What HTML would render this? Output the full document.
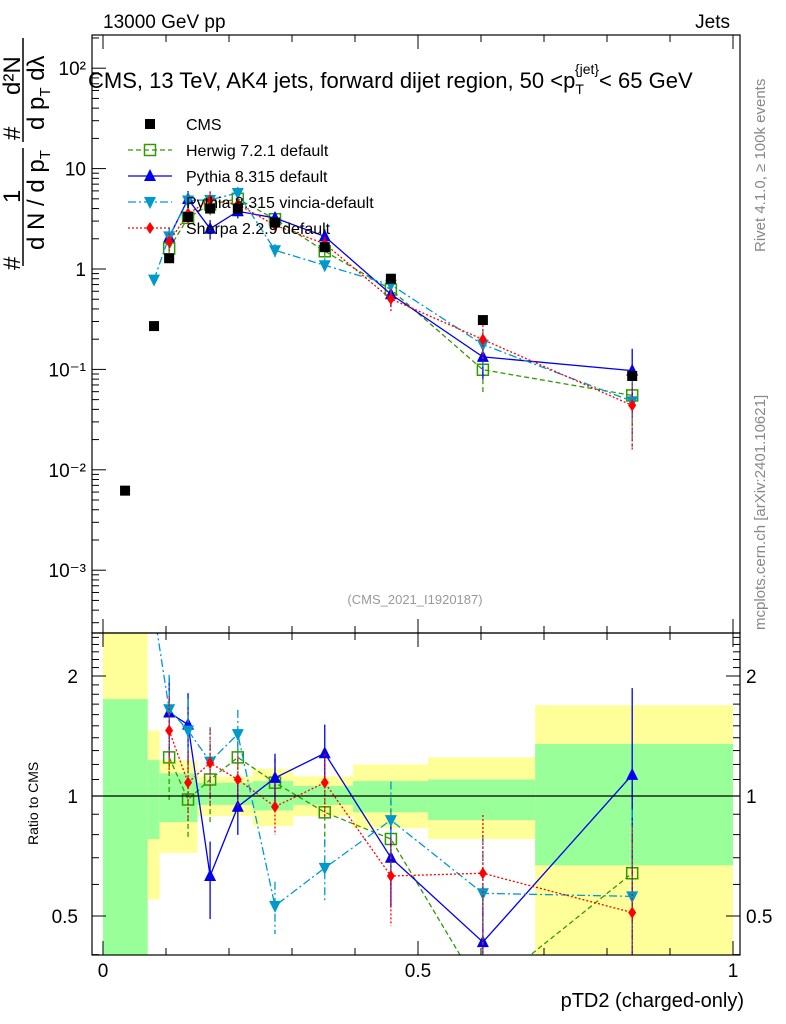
<!DOCTYPE html>
<html><head><meta charset="utf-8"><style>
html,body{margin:0;padding:0;background:#fff;overflow:hidden;width:786px;height:1024px;}
svg{display:block;}
svg text{font-family:"Liberation Sans",sans-serif;}
</style></head><body>
<svg id="c" width="786" height="1024" xmlns="http://www.w3.org/2000/svg">
<g id="bands"></g>
<g id="series"></g>
<rect x="92" y="35" width="648" height="598" fill="none" stroke="#000" stroke-width="1.2"/>
<rect x="92" y="633" width="648" height="322" fill="none" stroke="#000" stroke-width="1.2"/>
<line x1="92" y1="796" x2="740" y2="796" stroke="#000" stroke-width="1.2"/>
<g id="axes"></g>
<text x="103" y="28" font-size="19">13000 GeV pp</text>
<text x="730" y="28" font-size="19" text-anchor="end">Jets</text>
<text x="88" y="88" font-size="22">CMS, 13 TeV, AK4 jets, forward dijet region, 50 &lt;p<tspan font-size="14" dy="6">T</tspan><tspan font-size="14" dy="-20" dx="-9">{jet}</tspan><tspan dy="14">&lt; 65 GeV</tspan></text>
<text x="415" y="604" font-size="13" fill="#999" text-anchor="middle">(CMS_2021_I1920187)</text>
<text transform="translate(765,252) rotate(-90)" font-size="15" fill="#888">Rivet 4.1.0, ≥ 100k events</text>
<text transform="translate(765,630) rotate(-90)" font-size="15" fill="#888">mcplots.cern.ch [arXiv:2401.10621]</text>
<g font-size="24">
<text transform="translate(20,270) rotate(-90)">#</text>
<text transform="translate(20,203) rotate(-90)">1</text>
<line x1="23" y1="148" x2="23" y2="266" stroke="#000" stroke-width="1.5"/>
<text transform="translate(44,250) rotate(-90)">d N / d p<tspan font-size="15" dy="6">T</tspan></text>
<text transform="translate(20,140) rotate(-90)">#</text>
<text transform="translate(20,95) rotate(-90)">d²N</text>
<line x1="23" y1="38" x2="23" y2="142" stroke="#000" stroke-width="1.5"/>
<text transform="translate(44,130) rotate(-90)">d p<tspan font-size="15" dy="6">T</tspan><tspan dy="-6"> dλ</tspan></text>
</g>
<text transform="translate(38,845) rotate(-90)" font-size="14">Ratio to CMS</text>
<text x="744" y="1007" font-size="20" text-anchor="end">pTD2 (charged-only)</text>
<g id="legend"></g>
</svg>
<script>
const xs=[0.035,0.081,0.105,0.135,0.170,0.214,0.273,0.352,0.457,0.603,0.840];
const cmsVals=[0.0062,0.27,1.28,3.3,4.0,4.0,2.9,1.65,0.8,0.31,0.086];
const herwigRatio=[null,null,1.25,0.98,1.10,1.25,1.08,0.91,0.78,0.32,0.64];
const pythiaRatio=[null,null,1.62,1.51,0.63,0.94,1.11,1.28,0.70,0.43,1.13];
const vinciaRatio=[null,2.9,1.65,1.46,1.22,1.43,0.53,0.66,0.87,0.57,0.56];
const sherpaRatio=[null,null,1.46,1.08,1.21,1.10,0.94,1.08,0.63,0.64,0.51];
const relErr=[0.1,0.12,0.22,0.2,0.22,0.15,0.15,0.18,0.25,0.4,0.65];
const bandEdges=[0,0.071,0.09,0.15,0.238,0.302,0.397,0.516,0.686,1.0];
const bandYelLo=[0.3,0.55,0.72,0.89,0.84,0.89,0.83,0.78,0.3];
const bandYelHi=[2.6,1.46,1.23,1.12,1.17,1.12,1.2,1.25,1.69];
const bandGrnLo=[0.3,0.78,0.86,0.95,0.92,0.95,0.91,0.87,0.67];
const bandGrnHi=[1.75,1.23,1.14,1.08,1.09,1.06,1.09,1.1,1.35];
const yTicks=[-3,-2,-1,0,1,2];
const yTickLabels=["10⁻³","10⁻²","10⁻¹","1","10","10²"];
const xTicks=[0,0.5,1];
const xTickLabels=["0","0.5","1"];
const rTicks=[0.5,1,2];
const rTickLabels=["0.5","1","2"];

const NS="http://www.w3.org/2000/svg";
const X=v=>103+630*v;
const Y=v=>269-100.4*Math.log10(v);
const R=v=>796-398.6*Math.log10(v);
function mk(p,tag,at){const e=document.createElementNS(NS,tag);for(const k in at)e.setAttribute(k,at[k]);p.appendChild(e);return e;}
const bands=document.getElementById('bands'),ser=document.getElementById('series'),axes=document.getElementById('axes'),leg=document.getElementById('legend');
const clipR=v=>Math.max(633,Math.min(955,R(v)));
for(let i=0;i<bandYelLo.length;i++){
  const x0=X(bandEdges[i]),w=X(bandEdges[i+1])-x0;
  const a=mk(bands,'rect',{x:x0,y:clipR(bandYelHi[i]),width:w,height:clipR(bandYelLo[i])-clipR(bandYelHi[i]),fill:'#ffff99'});
  
  
  const b=mk(bands,'rect',{x:x0,y:clipR(bandGrnHi[i]),width:w,height:clipR(bandGrnLo[i])-clipR(bandGrnHi[i]),fill:'#99ff99'});
  
  
}
const defs=mk(document.getElementById('c'),'defs',{});
const c1=mk(defs,'clipPath',{id:'cm'});mk(c1,'rect',{x:92,y:35,width:648,height:598});
const c2=mk(defs,'clipPath',{id:'cr'});mk(c2,'rect',{x:92,y:633,width:648,height:322});
const gm=mk(ser,'g',{'clip-path':'url(#cm)'}),gr=mk(ser,'g',{'clip-path':'url(#cr)'});
function marker(g,type,x,y,col){
  let e;
  if(type==='sq')e=mk(g,'rect',{x:x-5,y:y-5,width:10,height:10,fill:'#000'});
  else if(type==='osq')e=mk(g,'rect',{x:x-5.5,y:y-5.5,width:11,height:11,fill:'none',stroke:col,'stroke-width':1.5});
  else if(type==='up')e=mk(g,'path',{d:`M${x},${y-7}L${x+6},${y+5}L${x-6},${y+5}Z`,fill:col});
  else if(type==='dn')e=mk(g,'path',{d:`M${x},${y+7}L${x+6},${y-5}L${x-6},${y-5}Z`,fill:col});
  else e=mk(g,'path',{d:`M${x},${y-6}L${x+4},${y}L${x},${y+6}L${x-4},${y}Z`,fill:col});
  return e;
}
const series=[
 {name:'herwig',label:'Herwig 7.2.1 default',r:herwigRatio,col:'#339900',dash:'5,3',m:'osq'},
 {name:'pythia',label:'Pythia 8.315 default',r:pythiaRatio,col:'#0000ee',dash:'',m:'up'},
 {name:'vincia',label:'Pythia 8.315 vincia-default',r:vinciaRatio,col:'#0099cc',dash:'8,3,2,3',m:'dn'},
 {name:'sherpa',label:'Sherpa 2.2.9 default',r:sherpaRatio,col:'#ff0000',dash:'2,2',m:'dia'}];
series.forEach(s=>{
  let pm=[],pr=[];
  s.r.forEach((r,i)=>{if(r==null)return;const v=r*cmsVals[i];pm.push([X(xs[i]),Y(v)]);pr.push([X(xs[i]),R(r)]);
    const e=relErr[i];
    const l1=mk(gm,'line',{x1:X(xs[i]),x2:X(xs[i]),y1:Y(v*(1+e)),y2:Y(Math.max(v*(1-e),1e-5)),stroke:s.col,'stroke-width':1.3,'stroke-dasharray':s.dash});
    
    
    const l2=mk(gr,'line',{x1:X(xs[i]),x2:X(xs[i]),y1:R(r*(1+e)),y2:R(Math.max(r*(1-e),0.05)),stroke:s.col,'stroke-width':1.3,'stroke-dasharray':s.dash});
    
    
  });
  const a=mk(gm,'polyline',{points:pm.join(' '),fill:'none',stroke:s.col,'stroke-width':1.3,'stroke-dasharray':s.dash});
  
  
  const b=mk(gr,'polyline',{points:pr.join(' '),fill:'none',stroke:s.col,'stroke-width':1.3,'stroke-dasharray':s.dash});
  
  
  pm.forEach(p=>{const e=marker(gm,s.m,p[0],p[1],s.col);
    
    });
  pr.forEach(p=>{const e=marker(gr,s.m,p[0],p[1],s.col);
    
    });
});
cmsVals.forEach((v,i)=>{const e=marker(gm,'sq',X(xs[i]),Y(v),'#000');
  
  });
yTicks.forEach((t,i)=>{
  const y=Y(Math.pow(10,t));
  mk(axes,'line',{x1:92,x2:106,y1:y,y2:y,stroke:'#000'});
  for(let k=2;k<10;k++){const yy=Y(k*Math.pow(10,t));if(yy>35&&yy<633)mk(axes,'line',{x1:92,x2:99,y1:yy,y2:yy,stroke:'#000'});}
  const tx=mk(axes,'text',{x:86,y:y+7,'font-size':19,'text-anchor':'end'});tx.textContent=yTickLabels[i];
  
  
});
for(let k=3;k<10;k++){const yy=Y(k*1e-4);if(yy<633)mk(axes,'line',{x1:92,x2:99,y1:yy,y2:yy,stroke:'#000'});}
xTicks.forEach((t,i)=>{
  const x=X(t);
  [[35,49],[633,619],[633,647],[955,941]].forEach(p=>mk(axes,'line',{x1:x,x2:x,y1:p[0],y2:p[1],stroke:'#000'}));
  const tx=mk(axes,'text',{x:x,y:977,'font-size':19,'text-anchor':'middle'});tx.textContent=xTickLabels[i];
  
  
});
for(let v=0.1;v<1;v+=0.1){if(Math.abs(v-0.5)<0.01)continue;const x=X(v);
  [[35,42],[633,626],[633,640],[955,948]].forEach(p=>mk(axes,'line',{x1:x,x2:x,y1:p[0],y2:p[1],stroke:'#000'}));}
rTicks.forEach((t,i)=>{
  const y=R(t);
  mk(axes,'line',{x1:92,x2:106,y1:y,y2:y,stroke:'#000'});
  mk(axes,'line',{x1:740,x2:726,y1:y,y2:y,stroke:'#000'});
  const a=mk(axes,'text',{x:78,y:y+7,'font-size':19,'text-anchor':'end'});a.textContent=rTickLabels[i];
  
  
  const b=mk(axes,'text',{x:746,y:y+7,'font-size':19});b.textContent=rTickLabels[i];
  
  
});
for(let v=0.4;v<2.6;v+=0.1){const y=R(v);if(y>633&&y<955){mk(axes,'line',{x1:92,x2:99,y1:y,y2:y,stroke:'#000'});mk(axes,'line',{x1:740,x2:733,y1:y,y2:y,stroke:'#000'});}}
const le=[{label:'CMS',m:'sq',col:'#000',dash:null}].concat(series);
le.forEach((s,i)=>{
  const y=124+26*i;
  const g=mk(leg,'g',{});
  
  
  if(s.dash!==null&&s.dash!==undefined)mk(g,'line',{x1:128,x2:172,y1:y,y2:y,stroke:s.col,'stroke-width':1.3,'stroke-dasharray':s.dash});
  marker(g,s.m,150,y,s.col);
  const t=mk(g,'text',{x:186,y:y+6,'font-size':16});t.textContent=s.label;
});
</script>
</body></html>
